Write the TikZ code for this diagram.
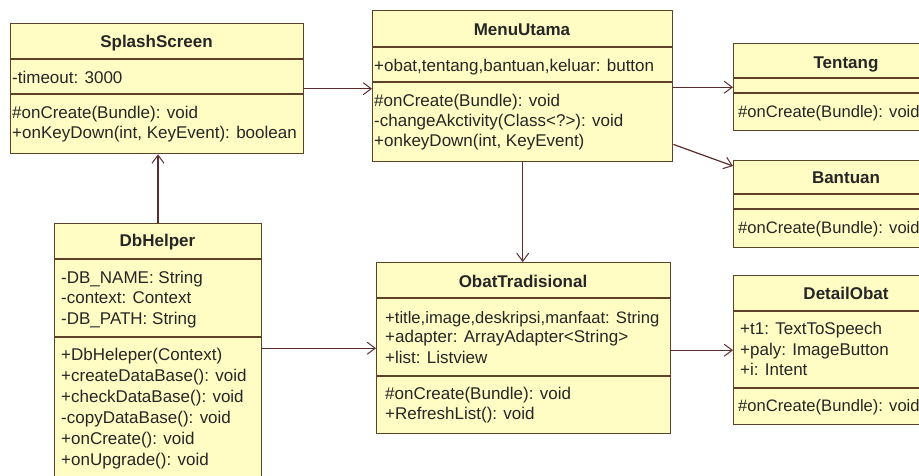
\documentclass[tikz,border=0pt]{standalone}
\usepackage{fontspec}
\setmainfont{Liberation Sans}
\usetikzlibrary{arrows.meta,calc}
\definecolor{boxfill}{RGB}{255,253,196}
\definecolor{boxdraw}{RGB}{95,65,40}
\definecolor{arrcol}{RGB}{90,45,45}
\tikzset{
  umlbox/.style={draw=boxdraw, fill=boxfill, line width=1.4pt, anchor=north west, inner sep=0pt, rectangle},
  divider/.style={draw=boxdraw, line width=1.4pt},
  ln/.style={anchor=base west, inner sep=0pt, font=\fontsize{17}{20}\selectfont, text=black!85},
  lnr/.style={ln, font=\fontsize{16.6}{20}\selectfont},
  ttl/.style={anchor=base, inner sep=0pt, font=\fontsize{17}{20}\selectfont\bfseries, text=black!85},
  arr/.style={draw=arrcol, line width=1.2pt, -{Straight Barb[length=8pt,width=12pt,line width=1pt]}}
}
\begin{document}
\begin{tikzpicture}[x=1pt,y=-1pt]
\useasboundingbox (0,0) rectangle (919,475);
\fill[white] (0,0) rectangle (919,475);
\clip (0,0) rectangle (919,475);

% SplashScreen
\node[umlbox, minimum width=293pt, minimum height=130pt] (splash) at (10,23) {};
\draw[divider] (10,59) -- (303,59);
\draw[divider] (10,94) -- (303,94);
\node[ttl] (splashT) at (156.5,47) {SplashScreen};
\node[ln] (splashA1) at (12,83) {-timeout: 3000};
\node[ln] (splashM1) at (12,118) {\#onCreate(Bundle): void};
\node[ln] (splashM2) at (12,138) {+onKeyDown(int, KeyEvent): boolean};

% MenuUtama
\node[umlbox, minimum width=300pt, minimum height=151pt] (menu) at (372,10) {};
\draw[divider] (372,47) -- (672,47);
\draw[divider] (372,82) -- (672,82);
\node[ttl] (menuT) at (522,35) {MenuUtama};
\node[ln] (menuA1) at (374,71) {+obat,tentang,bantuan,keluar: button};
\node[ln] (menuM1) at (374,106) {\#onCreate(Bundle): void};
\node[ln] (menuM2) at (374,126) {-changeAkctivity(Class<?>): void};
\node[ln] (menuM3) at (374,146) {+onkeyDown(int, KeyEvent)};

% Tentang
\node[umlbox, minimum width=250pt, minimum height=87pt] (tentang) at (733,43) {};
\draw[divider] (733,78) -- (983,78);
\draw[divider] (733,93) -- (983,93);
\node[ttl] (tentangT) at (846,68) {Tentang};
\node[lnr] (tentangM1) at (738,117) {\#onCreate(Bundle): void};

% Bantuan
\node[umlbox, minimum width=250pt, minimum height=87pt] (bantuan) at (733,160) {};
\draw[divider] (733,194) -- (983,194);
\draw[divider] (733,209) -- (983,209);
\node[ttl] (bantuanT) at (846,183) {Bantuan};
\node[lnr] (bantuanM1) at (738,233) {\#onCreate(Bundle): void};

% DbHelper
\node[umlbox, minimum width=207pt, minimum height=280pt] (dbhelper) at (54,223) {};
\draw[divider] (54,259) -- (261,259);
\draw[divider] (54,337) -- (261,337);
\node[ttl] (dbT) at (157.5,246) {DbHelper};
\node[ln] (dbA1) at (61,283) {-DB\_NAME: String};
\node[ln] (dbA2) at (61,303) {-context: Context};
\node[ln] (dbA3) at (61,324) {-DB\_PATH: String};
\node[ln] (dbM1) at (61,360) {+DbHeleper(Context)};
\node[ln] (dbM2) at (61,381) {+createDataBase(): void};
\node[ln] (dbM3) at (61,402) {+checkDataBase(): void};
\node[ln] (dbM4) at (61,423) {-copyDataBase(): void};
\node[ln] (dbM5) at (61,444) {+onCreate(): void};
\node[ln] (dbM6) at (61,465) {+onUpgrade(): void};

% ObatTradisional
\node[umlbox, minimum width=294pt, minimum height=171pt] (obat) at (376,262) {};
\draw[divider] (376,298) -- (670,298);
\draw[divider] (376,376) -- (670,376);
\node[ttl] (obatT) at (523,287) {ObatTradisional};
\node[lnr] (obatA1) at (385,323) {+title,image,deskripsi,manfaat: String};
\node[ln] (obatA2) at (385,342) {+adapter: ArrayAdapter<String>};
\node[ln] (obatA3) at (385,363) {+list: Listview};
\node[ln] (obatM1) at (385,399) {\#onCreate(Bundle): void};
\node[ln] (obatM2) at (385,419) {+RefreshList(): void};

% DetailObat
\node[umlbox, minimum width=250pt, minimum height=149pt] (detail) at (733,275) {};
\draw[divider] (733,311) -- (983,311);
\draw[divider] (733,388) -- (983,388);
\node[ttl] (detailT) at (846,299) {DetailObat};
\node[ln] (detailA1) at (740,334) {+t1: TextToSpeech};
\node[ln] (detailA2) at (740,355) {+paly: ImageButton};
\node[ln] (detailA3) at (740,375) {+i: Intent};
\node[lnr] (detailM1) at (738,411) {\#onCreate(Bundle): void};

% connectors
\draw[arr] ($(dbhelper.north west)+(104,0)$) -- ($(splash.south west)+(148,0)$);
\draw[arr] (splash.east) -- (menu.west |- splash.east);
\draw[arr] (menu.east |- tentang.west) -- (tentang.west);
\draw[arr] ($(menu.south east)+(0,-18)$) -- ($(bantuan.north west)+(0,6)$);
\draw[arr] (menu.south) -- (menu.south |- obat.north);
\draw[arr] (obat.west -| dbhelper.east) -- (obat.west);
\draw[arr] (obat.east |- detail.west) -- (detail.west);
\end{tikzpicture}
\end{document}
